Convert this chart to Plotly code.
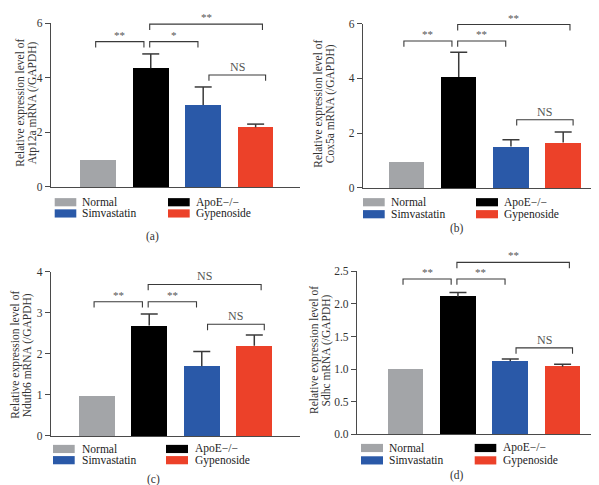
import plotly.graph_objects as go

W, H = 599, 485

# ---------------- data ----------------
groups = ["Normal", "ApoE−/−", "Simvastatin", "Gypenoside"]
colors = ["#A3A5A8", "#000000", "#2A59A8", "#EC4129"]

genes = ["Atp12a", "Cox5a", "Ndufb6", "Sdhc"]
panel_labels = ["(a)", "(b)", "(c)", "(d)"]

atp12a_mean = [0.97, 4.35, 3.00, 2.18]
atp12a_err = [None, 0.52, 0.66, 0.12]
cox5a_mean = [0.96, 4.05, 1.51, 1.66]
cox5a_err = [None, 0.91, 0.25, 0.38]
ndufb6_mean = [0.97, 2.69, 1.70, 2.20]
ndufb6_err = [None, 0.28, 0.36, 0.26]
sdhc_mean = [0.99, 2.11, 1.12, 1.035]
sdhc_err = [None, 0.065, 0.035, 0.04]

y_ranges = [[0, 6], [0, 6], [0, 4], [0, 2.5]]
y_dticks = [2, 2, 1, 0.5]
y_formats = ["d", "d", "d", ".1f"]

comparisons = [(0, 1), (1, 2), (1, 3), (2, 3)]
atp12a_sig = ["**", "*", "**", "NS"]
cox5a_sig = ["**", "**", "**", "NS"]
ndufb6_sig = ["**", "**", "NS", "NS"]
sdhc_sig = ["**", "**", "**", "NS"]
atp12a_bracket_y = [5.32, 5.32, 5.96, 4.10]
cox5a_bracket_y = [5.37, 5.37, 5.97, 2.49]
ndufb6_bracket_y = [3.27, 3.27, 3.69, 2.72]
sdhc_bracket_y = [2.385, 2.385, 2.64, 1.325]

means = [atp12a_mean, cox5a_mean, ndufb6_mean, sdhc_mean]
errs = [atp12a_err, cox5a_err, ndufb6_err, sdhc_err]
sigs = [atp12a_sig, cox5a_sig, ndufb6_sig, sdhc_sig]
bracket_ys = [atp12a_bracket_y, cox5a_bracket_y, ndufb6_bracket_y, sdhc_bracket_y]

# ---------------- layout geometry (px) ----------------
panels = [
    dict(x0=43, x1=292, ytop=9.3, ybot=177.3, xr=[-0.902, 3.846], title=(13, 24.5, 91),
         cap=(144, 228), leg_rows=(193, 204.5), leg_cols=((46.7, 68.3, 72), (160, 181.7, 185.7))),
    dict(x0=355, x1=598, ytop=10, ybot=178.3, xr=[-0.833, 3.82], title=(311, 322.5, 92),
         cap=(449, 220), leg_rows=(193, 205.3), leg_cols=((355, 376.7, 381), (468, 490, 494))),
    dict(x0=43, x1=292, ytop=264.3, ybot=432.7, xr=[-0.87, 3.87], title=(7.5, 19, 350),
         cap=(145, 477.5), leg_rows=(446, 457.5), leg_cols=((45, 66.7, 71.7), (158, 180, 185))),
    dict(x0=349, x1=598, ytop=264, ybot=430.7, xr=[-0.93, 3.83], title=(306.5, 318, 345),
         cap=(449, 473), leg_rows=(445, 457.7), leg_cols=((353, 375, 378.7), (466.7, 488.3, 493))),
]
bracket_spans = [(-0.05, 0.87), (0.98, 1.90), (0.98, 3.13), (2.11, 3.19)]
bar_width = 0.68

FONT = "Liberation Serif"
AXC = "#4a4a4a"


def PX(x):
    return x / W


def PY(y):
    return 1 - y / H


fig = go.Figure()
shapes = []
annotations = []

for k in range(4):
    p = panels[k]
    sx = "" if k == 0 else str(k + 1)
    xa, ya = "x" + sx, "y" + sx
    r0, r1 = y_ranges[k]
    plot_h = p["ybot"] - p["ytop"]
    ppu_x = (p["x1"] - p["x0"]) / (p["xr"][1] - p["xr"][0])
    xs = list(range(len(groups)))

    fig.add_trace(go.Bar(
        x=xs, y=means[k], width=bar_width, marker=dict(color=colors, line=dict(width=0)),
        xaxis=xa, yaxis=ya, showlegend=False, hoverinfo="skip"))

    # error bars (upper only), built from the data
    ex, ey = [], []
    cap = 8.5 / ppu_x
    for i, (m, e) in enumerate(zip(means[k], errs[k])):
        if e is None:
            continue
        ex += [i, i, None, i - cap, i + cap, None]
        ey += [m, m + e, None, m + e, m + e, None]
    fig.add_trace(go.Scatter(x=ex, y=ey, mode="lines", line=dict(color="#3a3a3a", width=1.5),
                             xaxis=xa, yaxis=ya, showlegend=False, hoverinfo="skip"))

    # significance brackets
    drop = 6 / plot_h
    for (a, b), (bx1, bx2), by, s in zip(comparisons, bracket_spans, bracket_ys[k], sigs[k]):
        yt = (by - r0) / (r1 - r0)
        yd = yt - drop
        shapes.append(dict(type="path", xref=xa, yref=ya + " domain",
                           path=f"M {bx1},{yd} L {bx1},{yt} L {bx2},{yt} L {bx2},{yd}",
                           line=dict(color="#3a3a3a", width=1.1)))
        annotations.append(dict(x=(bx1 + bx2) / 2, y=yt, xref=xa, yref=ya + " domain",
                                text=s, showarrow=False, yanchor="bottom", yshift=-1,
                                font=dict(family=FONT, size=12 if s == "NS" else 11, color="#555")))

    # axes
    fig.layout["xaxis" + sx] = dict(domain=[PX(p["x0"]), PX(p["x1"])], range=p["xr"],
                                     anchor=ya, showline=True, linecolor=AXC, linewidth=1.2,
                                     showticklabels=False, ticks="", showgrid=False, zeroline=False,
                                     fixedrange=True)
    fig.layout["yaxis" + sx] = dict(domain=[PY(p["ybot"]), PY(p["ytop"])], range=y_ranges[k],
                                     anchor=xa, showline=True, linecolor=AXC, linewidth=1.2,
                                     ticks="outside", ticklen=5, tickwidth=1.1, tickcolor=AXC,
                                     dtick=y_dticks[k], tick0=0, tickformat=y_formats[k],
                                     tickfont=dict(family=FONT, size=11.5, color="#333"),
                                     showgrid=False, zeroline=False, fixedrange=True)

    # y-axis title, two lines
    lines = ["Relative expression level of", f"{genes[k]} mRNA (/GAPDH)"]
    for li, txt in enumerate(lines):
        annotations.append(dict(x=PX(p["title"][li]), y=PY(p["title"][2]), xref="paper", yref="paper",
                                text=txt, textangle=-90, showarrow=False,
                                xanchor="center", yanchor="middle",
                                font=dict(family=FONT, size=11.5, color="#333")))

    # legend (two rows x two columns)
    order = [(0, 0, 0), (1, 0, 1), (2, 1, 0), (3, 1, 1)]
    for gi, row, col in order:
        cy = p["leg_rows"][row]
        sx0, sx1, tx = p["leg_cols"][col]
        shapes.append(dict(type="rect", xref="paper", yref="paper",
                           x0=PX(sx0), x1=PX(sx1), y0=PY(cy - 4.2), y1=PY(cy + 4.2),
                           fillcolor=colors[gi], line=dict(width=0)))
        annotations.append(dict(x=PX(tx), y=PY(cy), xref="paper", yref="paper", text=groups[gi],
                                showarrow=False, xanchor="left", yanchor="middle",
                                font=dict(family=FONT, size=11.5, color="#222")))

    # panel caption
    annotations.append(dict(x=PX(p["cap"][0]), y=PY(p["cap"][1]), xref="paper", yref="paper",
                            text=panel_labels[k], showarrow=False, xanchor="center", yanchor="middle",
                            font=dict(family=FONT, size=11.5, color="#333")))

fig.update_layout(
    width=W, height=H, margin=dict(l=0, r=0, t=0, b=0),
    paper_bgcolor="white", plot_bgcolor="white",
    shapes=shapes, annotations=annotations, showlegend=False,
    bargap=0,
)

fig.write_html("out.html")
